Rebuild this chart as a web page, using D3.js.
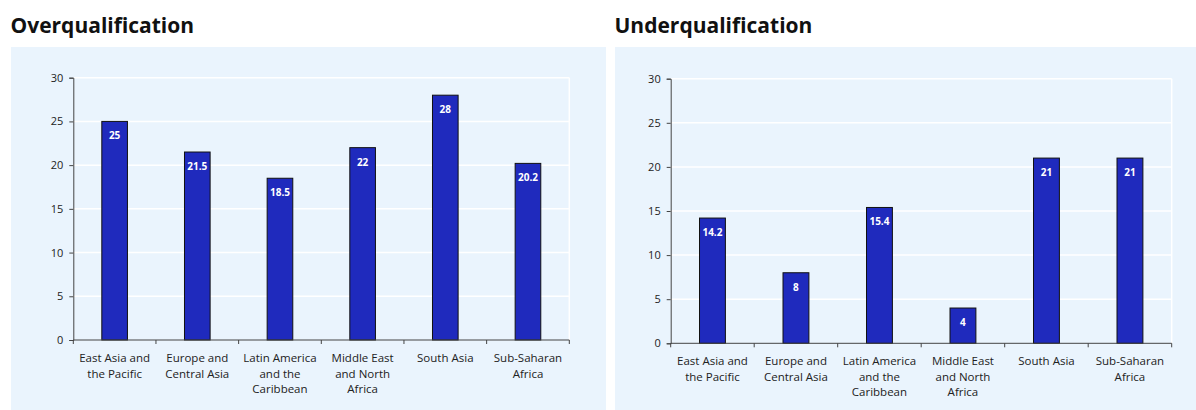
<!DOCTYPE html>
<html>
<head>
<meta charset="utf-8">
<script src="https://cdn.jsdelivr.net/npm/d3@7"></script>
<style>
  body { margin: 0; background: #fff; font-family: "Open Sans", "Noto Sans", sans-serif; }
  svg { display: block; }
</style>
</head>
<body>
<div id="chart"></div>
<script>
var categories = [
  ["East Asia and", "the Pacific"],
  ["Europe and", "Central Asia"],
  ["Latin America", "and the", "Caribbean"],
  ["Middle East", "and North", "Africa"],
  ["South Asia"],
  ["Sub-Saharan", "Africa"]
];
var overValues = [25, 21.5, 18.5, 22, 28, 20.2];
var underValues = [14.2, 8, 15.4, 4, 21, 21];
var yTicks = [0, 5, 10, 15, 20, 25, 30];

var svg = d3.select("#chart").append("svg")
    .attr("width", 1196).attr("height", 410);

// panels
var panels = [
  {title: "Overqualification", values: overValues, px: 11, pw: 595,
   x0: 73.3, x1: 569.3, yTop: 77.7, yBot: 340},
  {title: "Underqualification", values: underValues, px: 615, pw: 581,
   x0: 670.7, x1: 1171.7, yTop: 78.7, yBot: 343.3}
];

panels.forEach(function(p){
  svg.append("text")
      .attr("x", p.px - 0.5).attr("y", 33)
      .attr("font-size", 21).attr("font-weight", 700)
      .attr("fill", "#111")
      .text(p.title);

  svg.append("rect")
      .attr("x", p.px).attr("y", 47)
      .attr("width", p.pw).attr("height", 363)
      .attr("fill", "#eaf4fd");

  var x = d3.scaleBand()
      .domain(d3.range(categories.length))
      .range([p.x0, p.x1])
      .paddingInner(0.69).paddingOuter(0.345);
  var step = x.step();

  var y = d3.scaleLinear().domain([0, 30]).range([p.yBot, p.yTop]);

  var g = svg.append("g");

  // white grid lines + plot border
  g.selectAll(".grid").data(yTicks.slice(1)).enter().append("line")
      .attr("x1", p.x0).attr("x2", p.x1)
      .attr("y1", function(d){ return y(d); }).attr("y2", function(d){ return y(d); })
      .attr("stroke", "#fff").attr("stroke-width", 1.5);
  g.append("line")
      .attr("x1", p.x1).attr("x2", p.x1)
      .attr("y1", p.yTop).attr("y2", p.yBot)
      .attr("stroke", "#fff").attr("stroke-width", 1.5);

  // bars
  g.selectAll(".bar").data(p.values).enter().append("rect")
      .attr("x", function(d, i){ return x(i); })
      .attr("y", function(d){ return y(d); })
      .attr("width", x.bandwidth())
      .attr("height", function(d){ return y(0) - y(d); })
      .attr("fill", "#1f2abd")
      .attr("stroke", "#111")
      .attr("stroke-width", 1);

  g.selectAll(".val").data(p.values).enter().append("text")
      .attr("x", function(d, i){ return x(i) + x.bandwidth() / 2; })
      .attr("y", function(d){ return y(d) + 18; })
      .attr("text-anchor", "middle")
      .attr("font-size", 10).attr("font-weight", 700)
      .attr("fill", "#fff")
      .text(function(d){ return d; });

  // y axis
  var yAxis = d3.axisLeft(y).tickValues(yTicks).tickSize(4).tickPadding(6);
  var ya = g.append("g").attr("transform", "translate(" + p.x0 + ",0)").call(yAxis);
  ya.select(".domain").attr("stroke", "#444");
  ya.selectAll(".tick line").attr("stroke", "#444");
  ya.selectAll("text").attr("font-size", 11).attr("fill", "#222")
      .attr("font-family", "'Open Sans', 'Noto Sans', sans-serif");

  // x axis line and boundary ticks
  g.append("line")
      .attr("x1", p.x0).attr("x2", p.x1)
      .attr("y1", p.yBot).attr("y2", p.yBot)
      .attr("stroke", "#444");
  g.selectAll(".xt").data(d3.range(categories.length + 1)).enter().append("line")
      .attr("x1", function(i){ return p.x0 + i * step; })
      .attr("x2", function(i){ return p.x0 + i * step; })
      .attr("y1", p.yBot).attr("y2", p.yBot + 4)
      .attr("stroke", "#444");

  var lab = g.selectAll(".cat").data(categories).enter().append("text")
      .attr("text-anchor", "middle")
      .attr("font-size", 11.5).attr("fill", "#222")
      .attr("transform", function(d, i){
        return "translate(" + (x(i) + x.bandwidth() / 2) + "," + (p.yBot + 22) + ")";
      });
  lab.selectAll("tspan").data(function(d){ return d; }).enter().append("tspan")
      .attr("x", 0)
      .attr("y", function(d, i){ return i * 15.6; })
      .text(function(d){ return d; });
});
</script>
</body>
</html>
